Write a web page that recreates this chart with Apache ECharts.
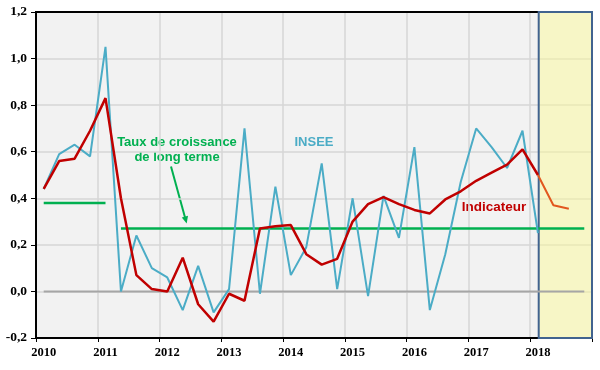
<!DOCTYPE html>
<html><head><meta charset="utf-8">
<script src="https://cdn.jsdelivr.net/npm/echarts@6/dist/echarts.min.js"></script>
<style>html,body{margin:0;padding:0;background:#fff}#c{width:600px;height:370px}</style>
</head><body><div id="c"></div>
<script>
// ---- data ----
const years = ['2010','2011','2012','2013','2014','2015','2016','2017','2018'];
const quarterNames = ['T1','T2','T3','T4'];
const categories = years.flatMap(y => quarterNames.map(q => y + q));

// INSEE quarterly growth (2010T1 .. 2018T1)
const insee = [0.44,0.59,0.63,0.58,1.05,0.00,0.24,0.10,0.06,-0.08,0.11,-0.09,0.01,0.70,-0.01,0.45,
               0.07,0.19,0.55,0.01,0.40,-0.02,0.41,0.23,0.62,-0.08,0.16,0.47,0.70,0.62,0.53,0.69,0.25];
// Indicateur (2010T1 .. 2018T1)
const indicateur = [0.44,0.56,0.57,0.69,0.83,0.40,0.07,0.01,0.00,0.145,-0.055,-0.13,-0.01,-0.04,0.27,0.28,
                    0.285,0.16,0.115,0.14,0.30,0.375,0.405,0.375,0.35,0.335,0.395,0.43,0.475,0.51,0.545,0.61,0.50];
// Forecast continuation
const previsionCats = ['2018T1','2018T2','2018T3'];
const previsionValues = [0.50,0.37,0.355];
// Long-term growth rate segments
const longTermCats1 = ['2010T1','2011T1'];
const longTermValue1 = 0.38;
const longTermCats2 = ['2011T2','2018T4'];
const longTermValue2 = 0.27;
const zeroCats = ['2010T1','2018T4'];
// y axis ticks
const yMin = -0.2, yMax = 1.2, yStep = 0.2;
// forecast window on quarter scale (0..36)
const forecastFrom = 32.55, forecastTo = 36;

const pairs = (cats, vals) => cats.map((c, i) => [c, Array.isArray(vals) ? vals[i] : vals]);

const chart = echarts.init(document.getElementById('c'), null, {renderer:'canvas'});
const serif = 'Liberation Serif, Times New Roman, serif';
const sans = 'Liberation Sans, Arial, sans-serif';

chart.setOption({
  animation: false,
  grid: {left:36, top:12, right:8, bottom:32, show:true, backgroundColor:'#F2F2F2', borderColor:'#000', borderWidth:2},
  xAxis: [{
    type:'category', data:categories, boundaryGap:true,
    axisLine:{onZero:false, lineStyle:{color:'#000', width:2}},
    axisTick:{show:true, interval:3, length:4, lineStyle:{color:'#000', width:1}},
    axisLabel:{interval:3, formatter:v => v.slice(0,4), fontFamily:serif, fontWeight:'bold', fontSize:12.5, color:'#000', margin:8},
    splitLine:{show:true, interval:3, lineStyle:{color:'#D6D6D6', width:1.5}}
  },{
    type:'value', min:0, max:36, position:'top', show:true,
    axisLine:{show:true, onZero:false, lineStyle:{color:'#000', width:2}},
    axisTick:{show:false}, axisLabel:{show:false}, splitLine:{show:false}
  }],
  yAxis: {
    type:'value', min:yMin, max:yMax, interval:yStep,
    axisLine:{show:true, lineStyle:{color:'#000', width:2}},
    axisTick:{show:true, length:5, lineStyle:{color:'#000'}},
    axisLabel:{formatter:v => v.toFixed(1).replace('.', ','), fontFamily:serif, fontWeight:'bold', fontSize:13.5, color:'#000', margin:9},
    splitLine:{show:true, lineStyle:{color:'#D6D6D6', width:1.5}}
  },
  series: [
    {type:'line', xAxisIndex:1, data:[], silent:true, z:1,
     markArea:{silent:true, itemStyle:{color:'rgba(252,250,154,0.5)', borderColor:'#41638F', borderWidth:2},
       data:[[{xAxis:forecastFrom},{xAxis:forecastTo}]]}},
    {type:'line', name:'zero', data:pairs(zeroCats, 0), symbol:'none', silent:true, z:2,
     lineStyle:{color:'#A6A6A6', width:2}},
    {type:'line', name:'lt1', data:pairs(longTermCats1, longTermValue1), symbol:'none', z:3,
     lineStyle:{color:'#00B050', width:2.5}},
    {type:'line', name:'lt2', data:pairs(longTermCats2, longTermValue2), symbol:'none', z:3,
     lineStyle:{color:'#00B050', width:2.5}},
    {type:'line', name:'INSEE', data:insee, symbol:'none', z:4,
     lineStyle:{color:'#4BACC6', width:2}},
    {type:'line', name:'Indicateur', data:indicateur, symbol:'none', z:5,
     lineStyle:{color:'#C00000', width:2.5}},
    {type:'line', name:'Prévision', data:pairs(previsionCats, previsionValues), symbol:'none', z:5,
     lineStyle:{color:'#E2571E', width:2}}
  ],
  graphic: [
    {type:'text', x:177, y:142, style:{text:'Taux de croissance', align:'center', verticalAlign:'middle', font:'bold 13px '+sans, fill:'#00B050'}},
    {type:'text', x:177, y:157, style:{text:'de long terme', align:'center', verticalAlign:'middle', font:'bold 13px '+sans, fill:'#00B050'}},
    {type:'line', shape:{x1:171, y1:166.5, x2:185.3, y2:218.5}, style:{stroke:'#00B050', lineWidth:2}},
    {type:'polygon', shape:{points:[[186.7,223.5],[188,215.8],[181.8,217.5]]}, style:{fill:'#00B050'}},
    {type:'text', x:314, y:142, style:{text:'INSEE', align:'center', verticalAlign:'middle', font:'bold 13px '+sans, fill:'#4BACC6'}},
    {type:'text', x:494, y:207, style:{text:'Indicateur', align:'center', verticalAlign:'middle', font:'bold 13.5px '+sans, fill:'#C00000'}}
  ]
});
</script></body></html>
